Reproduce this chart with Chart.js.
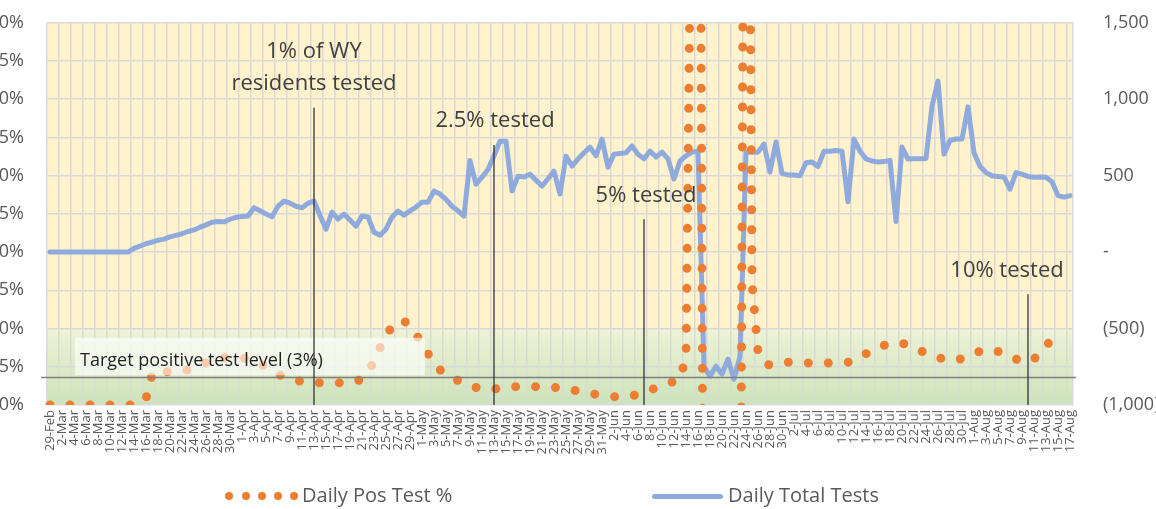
<!DOCTYPE html>
<html>
<head>
<meta charset="utf-8">
<script src="https://cdn.jsdelivr.net/npm/chart.js@4.4.1/dist/chart.umd.min.js"></script>
<style>
    html, body { margin: 0; padding: 0; background: #fff; }
    body { width: 1156px; height: 509px; overflow: hidden; position: relative; font-family: 'Open Sans', sans-serif; }
    #wrap { position: absolute; left: -30px; top: 0; width: 1250px; height: 509px; }
    .dot { position: absolute; top: 492px; width: 8px; height: 8px; border-radius: 50%; background: #ED7D31; }
    .legendText { position: absolute; top: 485px; font-size: 20px; line-height: 20px; color: #595959; white-space: nowrap; }
    .legendLine { position: absolute; left: 652px; top: 494px; width: 71px; height: 5px; border-radius: 3px; background: #8FAADC; }
</style>
</head>
<body>
<div id="wrap"><canvas id="testsChart" width="1250" height="509"></canvas></div>
<div id="legend">
    <span class="dot" style="left:225px"></span>
    <span class="dot" style="left:242px"></span>
    <span class="dot" style="left:258px"></span>
    <span class="dot" style="left:274px"></span>
    <span class="dot" style="left:290px"></span>
    <span class="legendText" style="left:302px">Daily Pos Test %</span>
    <span class="legendLine"></span>
    <span class="legendText" style="left:728px">Daily Total Tests</span>
</div>
<script>
const dates = [
    '29-Feb',
    '1-Mar', '2-Mar', '3-Mar', '4-Mar', '5-Mar', '6-Mar', '7-Mar', '8-Mar', '9-Mar', '10-Mar',
    '11-Mar', '12-Mar', '13-Mar', '14-Mar', '15-Mar', '16-Mar', '17-Mar', '18-Mar', '19-Mar', '20-Mar',
    '21-Mar', '22-Mar', '23-Mar', '24-Mar', '25-Mar', '26-Mar', '27-Mar', '28-Mar', '29-Mar', '30-Mar', '31-Mar',
    '1-Apr', '2-Apr', '3-Apr', '4-Apr', '5-Apr', '6-Apr', '7-Apr', '8-Apr', '9-Apr', '10-Apr',
    '11-Apr', '12-Apr', '13-Apr', '14-Apr', '15-Apr', '16-Apr', '17-Apr', '18-Apr', '19-Apr', '20-Apr',
    '21-Apr', '22-Apr', '23-Apr', '24-Apr', '25-Apr', '26-Apr', '27-Apr', '28-Apr', '29-Apr', '30-Apr',
    '1-May', '2-May', '3-May', '4-May', '5-May', '6-May', '7-May', '8-May', '9-May', '10-May',
    '11-May', '12-May', '13-May', '14-May', '15-May', '16-May', '17-May', '18-May', '19-May', '20-May',
    '21-May', '22-May', '23-May', '24-May', '25-May', '26-May', '27-May', '28-May', '29-May', '30-May', '31-May',
    '1-Jun', '2-Jun', '3-Jun', '4-Jun', '5-Jun', '6-Jun', '7-Jun', '8-Jun', '9-Jun', '10-Jun',
    '11-Jun', '12-Jun', '13-Jun', '14-Jun', '15-Jun', '16-Jun', '17-Jun', '18-Jun', '19-Jun', '20-Jun',
    '21-Jun', '22-Jun', '23-Jun', '24-Jun', '25-Jun', '26-Jun', '27-Jun', '28-Jun', '29-Jun', '30-Jun',
    '1-Jul', '2-Jul', '3-Jul', '4-Jul', '5-Jul', '6-Jul', '7-Jul', '8-Jul', '9-Jul', '10-Jul',
    '11-Jul', '12-Jul', '13-Jul', '14-Jul', '15-Jul', '16-Jul', '17-Jul', '18-Jul', '19-Jul', '20-Jul',
    '21-Jul', '22-Jul', '23-Jul', '24-Jul', '25-Jul', '26-Jul', '27-Jul', '28-Jul', '29-Jul', '30-Jul', '31-Jul',
    '1-Aug', '2-Aug', '3-Aug', '4-Aug', '5-Aug', '6-Aug', '7-Aug', '8-Aug', '9-Aug', '10-Aug',
    '11-Aug', '12-Aug', '13-Aug', '14-Aug', '15-Aug', '16-Aug', '17-Aug'
];

// Daily positive test %, left axis
const posPct = [
    0, 0, 0, 0, 0, 0, 0, 0, 0, 0,
    0, 0, 0, 0, 0, 0.2, 0.8, 4.0, 4.6, 4.4,
    4.3, 4.2, 4.4, 4.6, 4.8, 5.2, 5.5, 5.8, 6.0, 6.2,
    6.3, 6.3, 6.2, 6.0, 5.8, 5.4, 5.0, 4.5, 4.0, 3.7,
    3.4, 3.2, 3.1, 3.0, 3.0, 2.9, 2.9, 2.9, 2.9, 2.9,
    2.9, 3.0, 3.5, 4.2, 5.8, 7.5, 9.0, 10.3, 11.0, 11.0,
    10.4, 9.3, 7.9, 6.7, 5.6, 4.6, 4.0, 3.6, 3.2, 2.9,
    2.6, 2.3, 2.1, 2.0, 2.1, 2.2, 2.2, 2.4, 2.4, 2.5,
    2.4, 2.4, 2.4, 2.3, 2.3, 2.2, 2.2, 2.0, 1.8, 1.7,
    1.5, 1.4, 1.3, 1.2, 1.1, 1.0, 1.0, 1.2, 1.4, 1.7,
    2.0, 2.2, 2.5, 2.8, 3.1, 3.4, 6.3, 80, 150, -50,
    -40, -45, -40, -45, -40, -40, 150, 16, 7, 5.5,
    5.2, 5.3, 5.5, 5.6, 5.6, 5.5, 5.5, 5.5, 5.5, 5.5,
    5.5, 5.5, 5.6, 5.6, 5.8, 6.3, 6.7, 7.1, 7.5, 7.8,
    8.0, 8.2, 8.1, 7.8, 7.5, 7.1, 6.8, 6.4, 6.2, 6.0,
    5.8, 5.8, 6.1, 6.5, 6.8, 7.0, 7.2, 7.3, 7.0, 6.6,
    6.3, 6.0, 5.8, 5.6, 6.0, 6.8, 7.6, 8.8, 10.0, null,
    null
];

// Daily total tests, right axis
const totalTests = [
    0, 0, 0, 0, 0, 0, 0, 0, 0, 0,
    0, 0, 0, 0, 25, 40, 55, 65, 78, 85,
    100, 110, 120, 135, 145, 163, 178, 195, 200, 198,
    215, 228, 233, 236, 290, 270, 250, 232, 300, 334,
    320, 300, 290, 320, 334, 240, 150, 262, 216, 249,
    210, 170, 236, 230, 130, 111, 150, 230, 268, 242,
    270, 295, 327, 327, 399, 380, 345, 300, 270, 236,
    600, 445, 490, 540, 630, 726, 726, 400, 497, 491,
    510, 470, 432, 480, 530, 380, 628, 563, 609, 650,
    687, 630, 740, 556, 641, 645, 650, 694, 640, 610,
    661, 622, 654, 610, 478, 596, 630, 654, 661, -750,
    -811, -746, -798, -700, -831, -680, 654, 654, 654, 707,
    524, 720, 515, 505, 505, 500, 585, 590, 560, 660,
    660, 665, 660, 330, 740, 660, 610, 596, 590, 592,
    600, 200, 687, 609, 610, 610, 612, 955, 1119, 641,
    730, 740, 740, 950, 650, 560, 520, 500, 495, 492,
    412, 520, 510, 495, 490, 492, 490, 460, 370, 360,
    370
];

const pctTicks = [0, 5, 10, 15, 20, 25, 30, 35, 40, 45, 50];
const testTicks = [-1000, -500, 0, 500, 1000, 1500];

const milestones = [
    { date: '13-Apr', top: 38.9, lines: ['1% of WY', 'residents tested'], baselines: [45.4, 41.2], dx: 0 },
    { date: '13-May', top: 34.0, lines: ['2.5% tested'], baselines: [36.4], dx: 1 },
    { date: '7-Jun', top: 24.3, lines: ['5% tested'], baselines: [26.6], dx: 2 },
    { date: '10-Aug', top: 14.5, lines: ['10% tested'], baselines: [16.75], dx: -21 },
];

const targetNote = { text: 'Target positive test level (3%)', at: '5-Mar', level: 3.6, baseline: 5.1, boxTop: 8.8, boxBottom: 3.9, boxWidth: 350 };
const greenBandTop = 10;

function accounting(v) {
    if (v === 0) return '-';
    const s = Math.abs(v).toLocaleString('en-US');
    return v < 0 ? `(${s})` : s;
}

const bandsPlugin = {
    id: 'bands',
    beforeDraw(chart) {
        const { ctx, chartArea: a, scales: { y } } = chart;
        ctx.save();
        ctx.fillStyle = '#FFF2CC';
        ctx.fillRect(a.left, a.top, a.width, a.height);
        const top = y.getPixelForValue(greenBandTop);
        const grad = ctx.createLinearGradient(0, top, 0, a.bottom);
        grad.addColorStop(0, '#EEF2D6');
        grad.addColorStop(1, '#CCE3BA');
        ctx.fillStyle = grad;
        ctx.fillRect(a.left, top, a.width, a.bottom - top);
        ctx.restore();
    }
};

const notesPlugin = {
    id: 'notes',
    afterDatasetsDraw(chart) {
        const { ctx, chartArea: a, scales: { x, y } } = chart;
        ctx.save();

        // target level line
        const ty = y.getPixelForValue(targetNote.level);
        ctx.strokeStyle = '#7F7F7F';
        ctx.lineWidth = 1.5;
        ctx.beginPath();
        ctx.moveTo(a.left - 6, ty);
        ctx.lineTo(a.right + 3, ty);
        ctx.stroke();

        // label box for the target
        const tx = x.getPixelForValue(dates.indexOf(targetNote.at));
        const bTop = y.getPixelForValue(targetNote.boxTop);
        const bBot = y.getPixelForValue(targetNote.boxBottom);
        ctx.fillStyle = 'rgba(255,255,255,0.6)';
        ctx.fillRect(tx - 5, bTop, targetNote.boxWidth, bBot - bTop);
        ctx.fillStyle = '#1F1F1F';
        ctx.font = '18px "Open Sans"';
        ctx.textAlign = 'left';
        ctx.textBaseline = 'alphabetic';
        ctx.fillText(targetNote.text, tx, y.getPixelForValue(targetNote.baseline));

        // milestone markers
        ctx.font = '22px "Open Sans"';
        ctx.textAlign = 'center';
        milestones.forEach(m => {
            const mx = x.getPixelForValue(dates.indexOf(m.date));
            ctx.strokeStyle = '#333333';
            ctx.lineWidth = 1.3;
            ctx.beginPath();
            ctx.moveTo(mx, y.getPixelForValue(m.top));
            ctx.lineTo(mx, a.bottom);
            ctx.stroke();
            ctx.fillStyle = '#404040';
            m.lines.forEach((line, i) => {
                ctx.fillText(line, mx + m.dx, y.getPixelForValue(m.baselines[i]));
            });
        });
        ctx.restore();
    }
};

const ctx = document.getElementById('testsChart');
new Chart(ctx, {
    type: 'line',
    data: {
        labels: dates,
        datasets: [
            {
                label: 'Daily Pos Test %',
                data: posPct,
                yAxisID: 'y',
                borderColor: '#ED7D31',
                borderWidth: 9,
                borderDash: [0, 20],
                borderCapStyle: 'round',
                borderJoinStyle: 'round',
                pointRadius: 0,
                fill: false,
                tension: 0,
            },
            {
                label: 'Daily Total Tests',
                data: totalTests,
                yAxisID: 'y1',
                borderColor: '#8FAADC',
                borderWidth: 5,
                borderCapStyle: 'round',
                borderJoinStyle: 'round',
                pointRadius: 0,
                fill: false,
                tension: 0,
            }
        ]
    },
    options: {
        responsive: false,
        animation: false,
        devicePixelRatio: 1,
        layout: { padding: 0 },
        plugins: {
            legend: { display: false },
            tooltip: { enabled: false },
        },
        scales: {
            x: {
                offset: true,
                grid: {
                    offset: true,
                    drawTicks: false,
                    lineWidth: 1.5,
                    color: c => (c.index % 2 === 0 ? '#D9D9D9' : 'rgba(0,0,0,0)'),
                },
                border: { display: false },
                ticks: {
                    autoSkip: false,
                    minRotation: 90,
                    maxRotation: 90,
                    padding: 5,
                    color: '#595959',
                    font: { family: 'Open Sans', size: 13 },
                    callback: (v, i) => (i % 2 === 0 ? dates[i] : ''),
                },
                afterFit: s => { s.height = 104; },
            },
            y: {
                position: 'left',
                min: 0,
                max: 50,
                afterBuildTicks: s => { s.ticks = pctTicks.map(v => ({ value: v })); },
                ticks: {
                    padding: 12,
                    color: '#595959',
                    font: { family: 'Open Sans', size: 18 },
                    callback: v => v + '%',
                },
                grid: { color: '#D9D9D9', lineWidth: 1.5, drawTicks: true, tickLength: 11, tickColor: 'rgba(0,0,0,0)' },
                border: { display: false },
                afterFit: s => { s.width = 77; },
            },
            y1: {
                position: 'right',
                min: -1000,
                max: 1500,
                afterBuildTicks: s => { s.ticks = testTicks.map(v => ({ value: v })); },
                ticks: {
                    padding: 12,
                    color: '#595959',
                    font: { family: 'Open Sans', size: 18 },
                    callback: v => accounting(v),
                },
                grid: { display: false, drawTicks: true, tickLength: 18 },
                border: { display: true, color: '#D9D9D9', width: 1.5 },
                afterFit: s => { s.width = 147; },
            }
        }
    },
    plugins: [bandsPlugin, notesPlugin]
});
</script>
</body>
</html>
